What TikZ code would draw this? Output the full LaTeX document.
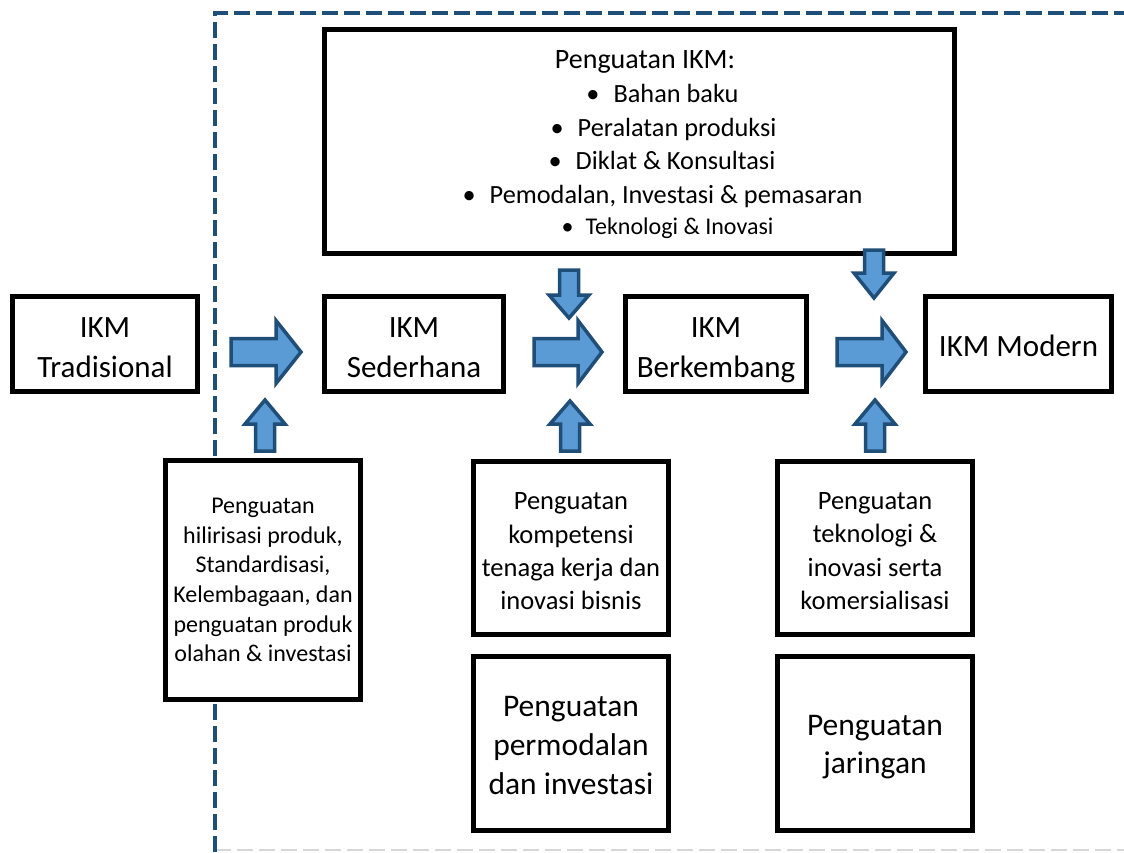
\documentclass[tikz,border=0pt]{standalone}
\usepackage{fontspec}
\setmainfont{Carlito}
\definecolor{frameblue}{RGB}{31,78,121}
\definecolor{arrowfill}{RGB}{91,155,213}
\definecolor{lightframe}{RGB}{215,215,215}
\tikzset{
  box/.style={draw=black, line width=5pt, fill=white, inner sep=0pt},
  boxtext/.style={align=center, inner sep=0pt, text=black},
  barrow/.style={draw=frameblue, fill=arrowfill, line width=3.5pt, line join=miter},
  dashframe/.style={draw=frameblue, line width=4pt, dash pattern=on 16pt off 6pt},
  dashlight/.style={draw=lightframe, line width=2pt, dash pattern=on 16pt off 6pt},
  topline/.style={anchor=base, inner sep=0pt, font=\fontsize{26.3}{30}\selectfont},
}
\newcommand\bul{\textbullet\hspace{14pt}}
% right block arrow: x0, xbase, xtip, yc
\newcommand\blockRight[4]{%
  \draw[barrow] (#1,#4-13.5) -- (#2,#4-13.5) -- (#2,#4-31.5) -- (#3,#4) -- (#2,#4+31.5) -- (#2,#4+13.5) -- (#1,#4+13.5) -- cycle;}
% up block arrow: xc, ytip, ybase, ybottom
\newcommand\blockUp[4]{%
  \draw[barrow] (#1-9.5,#4) -- (#1-9.5,#3) -- (#1-20,#3) -- (#1,#2) -- (#1+20,#3) -- (#1+9.5,#3) -- (#1+9.5,#4) -- cycle;}
% down block arrow: xc, ytop, ybase, ytip
\newcommand\blockDown[4]{%
  \draw[barrow] (#1-9.5,#2) -- (#1-9.5,#3) -- (#1-20,#3) -- (#1,#4) -- (#1+20,#3) -- (#1+9.5,#3) -- (#1+9.5,#2) -- cycle;}
\begin{document}
\begin{tikzpicture}[x=1pt,y=-1pt]
\useasboundingbox (0,0) rectangle (1124,852);
\fill[white] (0,0) rectangle (1124,852);

% dashed frame
\draw[dashlight] (215,850) -- (1124,850);
\draw[dashframe] (215,852) -- (215,13) -- (1124,13);

% top box
\node[box, minimum width=630pt, minimum height=224pt] (top) at (639.5,141.5) {};
\node[topline, font=\fontsize{28}{30}\selectfont] (t0) at (645,68) {Penguatan IKM:};
\node[topline] (t1) at (662.5,102) {\bul Bahan baku};
\node[topline] (t2) at (663.5,136) {\bul Peralatan produksi};
\node[topline] (t3) at (662,169) {\bul Diklat \& Konsultasi};
\node[topline] (t4) at (662.5,203) {\bul Pemodalan, Investasi \& pemasaran};
\node[topline, font=\fontsize{24}{26}\selectfont] (t5) at (667.5,234) {\textbullet\hspace{12pt}Teknologi \& Inovasi};

% main row
\node[box, minimum width=185pt, minimum height=95pt] (trad) at (105,344) {};
\node[box, minimum width=179pt, minimum height=95pt] (sed) at (414,344) {};
\node[box, minimum width=181pt, minimum height=95pt] (berk) at (716,344) {};
\node[box, minimum width=186pt, minimum height=95pt] (mod) at (1018.5,344) {};
\tikzset{rowtext/.style={boxtext, font=\fontsize{31}{40}\selectfont}}
\node[rowtext] (tradt) at ([yshift=-3.5pt]trad.center) {IKM\\Tradisional};
\node[rowtext] (sedt) at ([yshift=-3.5pt]sed.center) {IKM\\Sederhana};
\node[rowtext] (berkt) at ([yshift=-3.5pt]berk.center) {IKM\\\raisebox{0pt}[\height][0pt]{Berkembang}};
\node[rowtext] (modt) at ([yshift=-1.5pt]mod.center) {IKM Modern};

% lower boxes
\node[box, minimum width=195pt, minimum height=239pt] (bl) at (263,580) {};
\node[box, minimum width=195pt, minimum height=173pt] (m1) at (571,548) {};
\node[box, minimum width=195pt, minimum height=174pt] (m2) at (571,743.5) {};
\node[box, minimum width=195pt, minimum height=173pt] (r1) at (875,548) {};
\node[box, minimum width=195pt, minimum height=174pt] (r2) at (875,743.5) {};
\node[boxtext, font=\fontsize{24}{29.6}\selectfont] (blt) at (bl.center) {Penguatan\\hilirisasi produk,\\Standardisasi,\\Kelembagaan, dan\\penguatan produk\\olahan \& investasi};
\node[boxtext, font=\fontsize{26.5}{33.3}\selectfont] (m1t) at ([yshift=-3.5pt]m1.center) {Penguatan\\kompetensi\\tenaga kerja dan\\inovasi bisnis};
\node[boxtext, font=\fontsize{31.5}{39}\selectfont] (m2t) at ([yshift=-1.5pt]m2.center) {Penguatan\\permodalan\\dan investasi};
\node[boxtext, font=\fontsize{26.5}{33.3}\selectfont] (r1t) at ([yshift=-3pt]r1.center) {Penguatan\\teknologi \&\\inovasi serta\\komersialisasi};
\node[boxtext, font=\fontsize{31.5}{38}\selectfont] (r2t) at ([yshift=-4pt]r2.center) {Penguatan\\jaringan};

% block arrows
\blockRight{231}{276}{301}{352}
\blockRight{534}{578}{602}{352}
\blockRight{837}{882}{906}{352}
\blockUp{265}{400}{424}{451}
\blockUp{570}{401}{424}{451}
\blockUp{875}{400}{424}{451}
\blockDown{569}{270}{295}{318}
\blockDown{874}{250}{273}{298}
\end{tikzpicture}
\end{document}
